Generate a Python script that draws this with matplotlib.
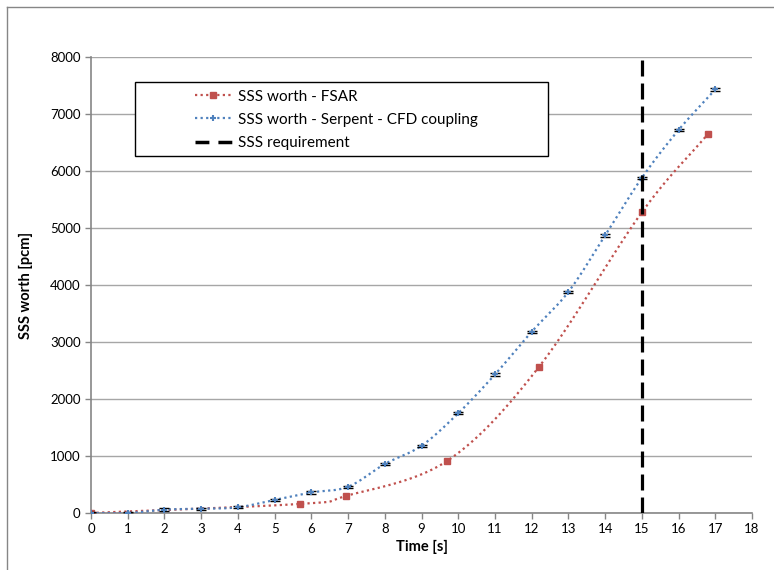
import numpy as np
import matplotlib.pyplot as plt
from matplotlib.patches import Rectangle
from matplotlib.lines import Line2D

plt.rcParams['font.family'] = ['Lato', 'DejaVu Sans']

# data
fsar_t = [0, 5.7, 6.95, 9.7, 12.2, 15.0, 16.8]
fsar_w = [0, 160, 300, 915, 2565, 5275, 6650]

cfd_t = list(range(0, 18))
cfd_w = [0, 0, 60, 75, 100, 230, 360, 460, 860, 1180, 1750, 2430, 3180, 3880, 4870, 5880, 6720, 7430]
cfd_err = [20] * 18

req_t = 15


def smooth(x, y, n=20):
    # Catmull-Rom curve, like Excel's "smoothed line"
    x = np.asarray(x, float)
    y = np.asarray(y, float)
    px = np.concatenate([[2 * x[0] - x[1]], x, [2 * x[-1] - x[-2]]])
    py = np.concatenate([[2 * y[0] - y[1]], y, [2 * y[-1] - y[-2]]])
    ox, oy = [], []
    s = np.linspace(0, 1, n, endpoint=False)
    for i in range(1, len(px) - 2):
        for arr, out in ((px, ox), (py, oy)):
            p0, p1, p2, p3 = arr[i - 1:i + 3]
            out.extend(0.5 * (2 * p1 + (-p0 + p2) * s + (2 * p0 - 5 * p1 + 4 * p2 - p3) * s ** 2
                              + (-p0 + 3 * p1 - 3 * p2 + p3) * s ** 3))
    ox.append(x[-1])
    oy.append(y[-1])
    return ox, oy


red = '#c0504d'
blue = '#4f81bd'

fig = plt.figure(figsize=(7.74, 5.70), dpi=100)
ax = fig.add_axes([0.1176, 0.1, 0.854, 0.8])

# chart border
fig.add_artist(Line2D([7 / 774, 7 / 774], [0, 1 - 7 / 570], color='#868686', lw=1))
fig.add_artist(Line2D([7 / 774, 1], [1 - 7 / 570, 1 - 7 / 570], color='#868686', lw=1))

sx, sy = smooth(fsar_t, fsar_w)
ax.plot(sx, sy, color=red, ls=(0, (1, 1.5)), lw=1.6, zorder=3)
ax.plot(fsar_t, fsar_w, 's', color=red, ms=5, zorder=4)

bx, by = smooth(cfd_t, cfd_w)
ax.plot(bx, by, color=blue, ls=(0, (1, 1.5)), lw=1.6, zorder=3)
ax.errorbar(cfd_t, cfd_w, yerr=cfd_err, fmt='none', ecolor='black', capsize=3.5, elinewidth=0.8, zorder=4)
ax.plot(cfd_t, cfd_w, '+', color=blue, ms=5, mew=1.5, zorder=5)

ax.plot([req_t, req_t], [0, 8000], color='black', lw=2.3, ls=(0, (5, 2.2)), zorder=6)

ax.set_xlim(0, 18)
ax.set_ylim(0, 8000)
ax.set_xticks(range(0, 19))
ax.set_yticks(range(0, 8001, 1000))
ax.yaxis.grid(True, color='#a6a6a6', lw=1)
ax.set_axisbelow(True)
for sp in ['top', 'right']:
    ax.spines[sp].set_visible(False)
for sp in ['left', 'bottom']:
    ax.spines[sp].set_color('#868686')
    ax.spines[sp].set_linewidth(1.2)
ax.tick_params(colors='#868686', labelcolor='black', labelsize=9.5, length=4, width=1, direction='out')
ax.set_xlabel('Time [s]', fontsize=10.5, fontweight='bold', labelpad=3)
ax.set_ylabel('SSS worth [pcm]', fontsize=10.5, fontweight='bold', labelpad=12)

# legend box
ax.add_patch(Rectangle((0.0666, 0.783), 0.625, 0.162, transform=ax.transAxes,
                       facecolor='white', edgecolor='black', lw=1, zorder=7))
handles = [
    Line2D([], [], color=red, ls=(0, (1, 1.5)), lw=1.6, marker='s', ms=5),
    Line2D([], [], color=blue, ls=(0, (1, 1.5)), lw=1.6, marker='+', ms=5, mew=1.5),
    Line2D([], [], color='black', ls=(0, (4, 2.6)), lw=2.5),
]
leg = ax.legend(handles, ['SSS worth - FSAR', 'SSS worth - Serpent - CFD coupling', 'SSS requirement'],
                loc='upper left', bbox_to_anchor=(0.148, 0.942), frameon=False, fontsize=11,
                handlelength=2.4, handletextpad=0.4, labelspacing=0.6, borderaxespad=0)
leg.set_zorder(8)

fig.savefig('out.png', dpi=100)
